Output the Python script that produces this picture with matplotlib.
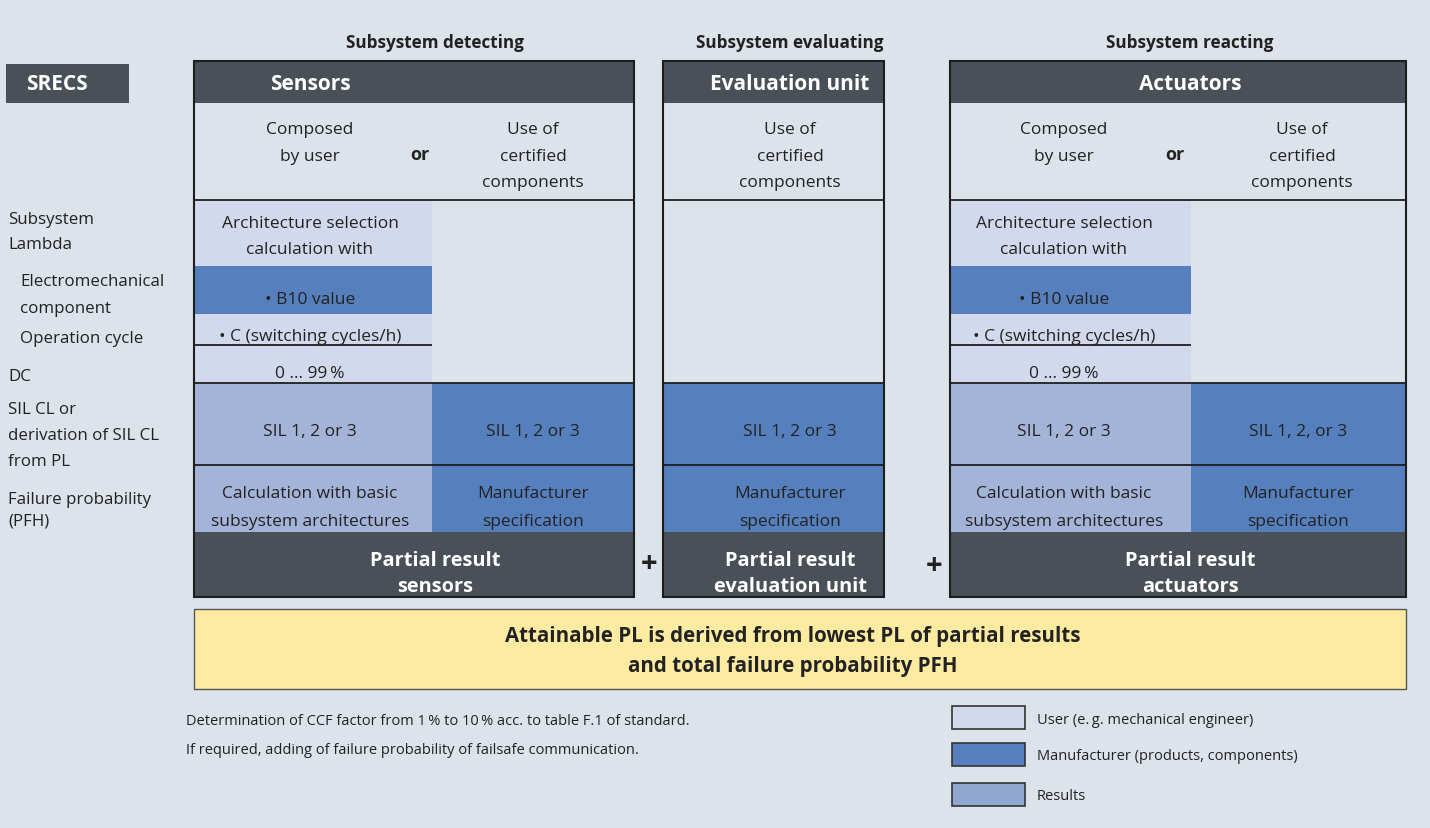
import matplotlib
matplotlib.use("Agg")
import matplotlib.pyplot as plt
from matplotlib.patches import Rectangle

# ---------------- content ----------------
group_titles = ["Subsystem detecting", "Subsystem evaluating", "Subsystem reacting"]
column_headers = ["Sensors", "Evaluation unit", "Actuators"]
side_title = "SRECS"
choice_user = ["Composed", "by user"]
choice_word = "or"
choice_cert = ["Use of", "certified", "components"]
arch_lines = ["Architecture selection", "calculation with"]
b10_text = "• B10 value"
c_text = "• C (switching cycles/h)"
dc_text = "0 ... 99\u2009%"
sil_user = "SIL 1, 2 or 3"
sil_manu = ["SIL 1, 2 or 3", "SIL 1, 2 or 3", "SIL 1, 2, or 3"]
pfh_user = ["Calculation with basic", "subsystem architectures"]
pfh_manu = ["Manufacturer", "specification"]
partial_results = [["Partial result", "sensors"],
                   ["Partial result", "evaluation unit"],
                   ["Partial result", "actuators"]]
row_labels = [("Subsystem", 0), ("Lambda", 0), ("Electromechanical", 1), ("component", 1),
              ("Operation cycle", 1), ("DC", 0), ("SIL CL or", 0), ("derivation of SIL CL", 0),
              ("from PL", 0), ("Failure probability", 0), ("(PFH)", 0)]
summary = ["Attainable PL is derived from lowest PL of partial results",
           "and total failure probability PFH"]
footnotes = ["Determination of CCF factor from 1\u2009% to 10\u2009% acc. to table F.1 of standard.",
             "If required, adding of failure probability of failsafe communication."]
legend_labels = ["User (e.\u2009g. mechanical engineer)", "Manufacturer (products, components)", "Results"]

# ---------------- styles ----------------
BG = "#DCE3EA"
DARK = "#495058"
USER = "#D3D9EC"
MANU = "#5580BD"
RES = "#A4B4D9"
RES_LEG = "#90A7D1"
YEL = "#FDEBA2"
TXT = "#222222"
LINE = "#1e1e1e"
FONT = "Open Sans"
DY = 1.5  # vertical text offset

fig = plt.figure(figsize=(14.3, 8.29), dpi=100)
fig.patch.set_facecolor(BG)
ax = fig.add_axes([0, 0, 1, 1])
ax.set_xlim(0, 1430)
ax.set_ylim(829, 0)
ax.axis("off")

def rect(x0, y0, x1, y1, fc, ec="none", lw=0, z=1):
    ax.add_patch(Rectangle((x0, y0), x1 - x0, y1 - y0, facecolor=fc, edgecolor=ec, linewidth=lw, zorder=z))

def hline(x0, x1, y, lw=1.3):
    ax.plot([x0, x1], [y, y], color=LINE, lw=lw, zorder=4, solid_capstyle="butt")

def txt(x, y, s, size=12.5, color=TXT, weight="normal", ha="center"):
    ax.text(x, y + DY, s, fontsize=size, color=color, fontweight=weight, ha=ha, va="center",
            family=FONT, zorder=6)

def lines(x, ys, ss, **kw):
    for y, s in zip(ys, ss):
        txt(x, y, s, **kw)

# layout
cols = [(194, 634, 432), (663, 884, None), (950, 1406, 1191)]
head_cx = [310, 790, 1190]
group_cx = [435, 790, 1190]
user_cx = [310, None, 1064]
cert_cx = [533, 790, 1302]
or_cx = [420, None, 1175]
Y_TOP, Y_HEAD, Y_CHOICE, Y_B10A, Y_B10B, Y_C, Y_SIL, Y_PFH, Y_PART, Y_BOT = 62, 104, 201, 267, 315, 346, 384, 466, 533, 598
HEAD_SIZE = 15

# SRECS box
rect(6, 65, 129, 104, DARK)
txt(26, 83, side_title, size=HEAD_SIZE, color="white", weight="bold", ha="left")

for i, (x0, x1, xs) in enumerate(cols):
    txt(group_cx[i], 41, group_titles[i], size=12.3, weight="bold")
    # header
    rect(x0, Y_TOP, x1, Y_HEAD, DARK, z=2)
    txt(head_cx[i], 83, column_headers[i], size=HEAD_SIZE, color="white", weight="bold")
    # choice row text
    if xs is not None:
        lines(user_cx[i], [128, 155], choice_user)
        txt(or_cx[i], 153, choice_word, size=13, weight="bold")
        # user blocks
        rect(x0, Y_CHOICE, xs, Y_B10A, USER, z=2)
        rect(x0, Y_B10A, xs, Y_B10B, MANU, z=2)
        rect(x0, Y_B10B, xs, Y_SIL, USER, z=2)
        hline(x0, xs, Y_C)
        lines(user_cx[i], [222, 248], arch_lines)
        txt(user_cx[i], 298, b10_text)
        txt(user_cx[i], 335, c_text)
        txt(user_cx[i], 372, dc_text)
        rect(x0, Y_SIL, xs, Y_PART, RES, z=2)
        rect(xs, Y_SIL, x1, Y_PART, MANU, z=2)
        txt(user_cx[i], 430, sil_user)
        lines(user_cx[i], [493, 520], pfh_user)
        mcx = (xs + x1) / 2
    else:
        rect(x0, Y_SIL, x1, Y_PART, MANU, z=2)
        mcx = cert_cx[i]
    lines(cert_cx[i], [128, 155, 181], choice_cert)
    txt(mcx, 430, sil_manu[i])
    lines(mcx, [493, 520], pfh_manu)
    # partial result
    rect(x0, Y_PART, x1, Y_BOT, DARK, z=2)
    lines(group_cx[i], [559, 585], partial_results[i], size=14.4, color="white", weight="bold")
    # row separators
    for y in (Y_CHOICE, Y_SIL, Y_PFH):
        hline(x0, x1, y)
    # outline
    rect(x0, Y_TOP, x1, Y_BOT, "none", ec=LINE, lw=1.5, z=5)

# plus signs
txt(649, 563, "+", size=21, weight="bold")
txt(934, 565, "+", size=21, weight="bold")

# row labels
label_y = [218, 243, 280, 307, 337, 375, 408, 435, 461, 499, 520]
for (s, ind), y in zip(row_labels, label_y):
    txt(8 + 12 * ind, y, s, size=12.2, ha="left")

# summary box
rect(194, 610, 1406, 690, YEL, ec="#555555", lw=1.0, z=2)
lines(793, [635, 665], summary, size=14.8, weight="bold")

# footnotes
for y, s in zip([720, 749], footnotes):
    txt(186, y, s, size=10.5, ha="left")

# legend
leg_colors = [USER, MANU, RES_LEG]
for (y0, y1), c, s in zip([(707, 730), (744, 767), (784, 807)], leg_colors, legend_labels):
    rect(952, y0, 1025, y1, c, ec="#333333", lw=1.2, z=2)
    txt(1037, (y0 + y1) / 2, s, size=10.5, ha="left")

fig.savefig("out.png", dpi=100, facecolor=BG)
